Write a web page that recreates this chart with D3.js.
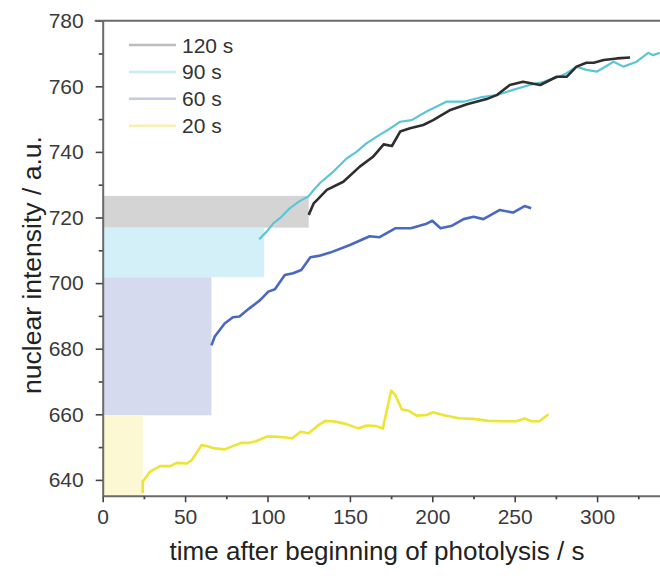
<!DOCTYPE html>
<html>
<head>
<meta charset="utf-8">
<script src="https://cdn.jsdelivr.net/npm/d3@7/dist/d3.min.js"></script>
<style>
  html, body { margin: 0; padding: 0; background: #fff; }
  svg { display: block; }
  text { font-family: "Liberation Sans", Arial, sans-serif; }
</style>
</head>
<body>
<svg id="chart" width="660" height="578"></svg>
<script>
// ---------- data ----------
const seriesNames = ["120 s", "90 s", "60 s", "20 s"];

// photolysis boxes: [end time, lower value, upper value]
const box120 = [125, 716.9, 726.6];
const box90  = [98, 701.8, 716.9];
const box60  = [66, 659.7, 701.8];
const box20  = [24.3, 635, 659.7];

const t120 = [125,128,130,136,146,156,164,170.5,175.5,180.5,186.5,194.5,200.5,211,221,233,239,247,255,265.5,275.5,281.5,287.5,293.5,298,304,312,320];
const v120 = [720.8,724.3,725.3,728.4,730.9,735.5,738.5,742.3,741.8,746.2,747.2,748.2,749.7,752.8,754.5,756.1,757.3,760.4,761.4,760.4,762.9,762.9,766,767.2,767.2,768,768.5,768.8];

const t90 = [95,99.5,103.5,108.5,113.5,119.5,125,128,132,140,148,154,160,168,174,180.5,187.5,196.5,208.5,219,229,239,249,259,267.5,277.5,281.5,287.5,293.5,300,310,316,324,331,334,338];
const v90 = [713.4,715.7,718.2,720.2,722.8,725,726.5,728.4,730.6,734,738,740,742.6,745.2,747,749.2,749.7,752.3,755.3,755.3,756.6,757.3,758.9,760.4,761.4,763.1,764,766,765,764.5,767.5,766,767.5,770.2,769.5,770.2];

const t60 = [66,68,74,79,83,89,95.5,100.5,104.5,110.5,115.5,120.5,126,131,138,150,162,168,177.5,187,196,200,205,212,219,225,231,241,249,256,260];
const v60 = [681,683.7,687.7,689.6,689.8,692.3,694.8,697.4,698.1,702.5,703,704,707.9,708.3,709.3,711.6,714.3,714,716.7,716.7,718,719,716.7,717.5,719.5,720.2,719.5,722.3,721.5,723.5,722.8];

const t20 = [24.3,24.3,28.7,34.8,40.9,44.9,51,54,60,63,68,74,79,84,89,93,99.5,104.5,110,115,120,125,131,135,140,148,155,160,166,170,175,177.5,181.5,185.5,190.5,196.5,200.5,206.5,216,225,234,243,251,256,260,265,270.5];
const v20 = [636,639.5,642.5,644.2,644.2,645.2,645,646,650.6,650.3,649.6,649.3,650.3,651.3,651.3,651.8,653.2,653.2,653,652.7,654.7,654.2,656.7,658,657.9,657,655.7,656.6,656.4,655.7,667.2,665.9,661.5,661.1,659.6,659.8,660.6,659.8,658.8,658.6,658,657.9,657.9,658.7,657.9,657.9,660];

const xMajorTicks = [0, 50, 100, 150, 200, 250, 300];
const xMinorTicks = [25, 75, 125, 175, 225, 275, 325];
const yMajorTicks = [640, 660, 680, 700, 720, 740, 760, 780];
const yMinorTicks = [650, 670, 690, 710, 730, 750, 770];

const xTitle = "time after beginning of photolysis / s";
const yTitle = "nuclear intensity / a.u.";

// ---------- styles ----------
const boxColors  = ["#d4d4d4", "#d3f0f9", "#d6daee", "#fcf8d3"];
const lineColors = ["#2e2e2e", "#5cc6d6", "#4a68bf", "#ede534"];
const legendColors = ["#bdbdbd", "#c8ecf6", "#c5cbe6", "#f7f0b0"];

// ---------- layout ----------
const svg = d3.select("#chart");
const mLeft = 102.7, mTop = 20.7, mBottom = 496.3;
const x = d3.scaleLinear().domain([0, 340]).range([mLeft, mLeft + 340 * 1.648]);
const y = d3.scaleLinear().domain([635, 780]).range([mBottom, mTop]);

svg.append("defs").append("clipPath").attr("id", "plotclip")
  .append("rect").attr("x", mLeft).attr("y", mTop).attr("width", 660 - mLeft).attr("height", mBottom - mTop);

const plot = svg.append("g").attr("clip-path", "url(#plotclip)");

// boxes
const boxes = [box120, box90, box60, box20];
plot.selectAll("rect.box").data(boxes).join("rect")
  .attr("class", "box")
  .attr("x", x(0))
  .attr("y", d => y(d[2]))
  .attr("width", d => x(d[0]) - x(0))
  .attr("height", d => y(d[1]) - y(d[2]))
  .attr("fill", (d, i) => boxColors[i]);

// lines
const series = [[t120, v120], [t90, v90], [t60, v60], [t20, v20]];
const line = d3.line().x(d => x(d[0])).y(d => y(d[1]));
const drawOrder = [3, 2, 1, 0];
drawOrder.forEach(i => {
  const pts = series[i][0].map((t, k) => [t, series[i][1][k]]);
  plot.append("path")
    .datum(pts)
    .attr("d", line)
    .attr("fill", "none")
    .attr("stroke", lineColors[i])
    .attr("stroke-width", i === 1 ? 2.2 : 2.6)
    .attr("stroke-linejoin", "round");
});

// axes
const axisColor = "#6a6a6a";
const labelColor = "#3a3a3a";

function styleAxis(g) {
  g.select(".domain").attr("stroke", axisColor).attr("stroke-width", 2);
  g.selectAll(".tick line").attr("stroke", "#444").attr("stroke-width", 1.6);
  g.selectAll(".tick text").attr("fill", labelColor)
    .style("font-size", "21px").style("font-family", '"Liberation Sans", Arial, sans-serif');
}

const xAxisG = svg.append("g").attr("transform", `translate(0,${mBottom})`)
  .call(d3.axisBottom(x).tickValues(xMajorTicks).tickSize(6).tickPadding(7).tickSizeOuter(0));
styleAxis(xAxisG);
xAxisG.select(".domain").attr("d", `M${mLeft},0H660`);

const xMinorG = svg.append("g").attr("transform", `translate(0,${mBottom})`)
  .call(d3.axisBottom(x).tickValues(xMinorTicks).tickSize(3).tickFormat(""));
xMinorG.select(".domain").remove();
xMinorG.selectAll(".tick line").attr("stroke", "#444").attr("stroke-width", 1.8);

const yAxisG = svg.append("g").attr("transform", `translate(${mLeft},0)`)
  .call(d3.axisLeft(y).tickValues(yMajorTicks).tickSize(7).tickPadding(12).tickSizeOuter(0));
styleAxis(yAxisG);

const yMinorG = svg.append("g").attr("transform", `translate(${mLeft},0)`)
  .call(d3.axisLeft(y).tickValues(yMinorTicks).tickSize(4).tickFormat(""));
yMinorG.select(".domain").remove();
yMinorG.selectAll(".tick line").attr("stroke", "#444").attr("stroke-width", 1.6);

// top frame line
svg.append("line")
  .attr("x1", mLeft - 8).attr("x2", 660)
  .attr("y1", mTop).attr("y2", mTop)
  .attr("stroke", axisColor).attr("stroke-width", 2);

// legend
const legend = svg.append("g");
seriesNames.forEach((name, i) => {
  const ly = 45 + i * 26.9;
  legend.append("line")
    .attr("x1", 129).attr("x2", 176).attr("y1", ly).attr("y2", ly)
    .attr("stroke", legendColors[i]).attr("stroke-width", 2.5);
  legend.append("text")
    .attr("x", 182).attr("y", ly).attr("dy", "0.36em")
    .attr("fill", "#333").style("font-size", "21px")
    .text(name);
});

// titles
svg.append("text")
  .attr("x", 377).attr("y", 560)
  .attr("text-anchor", "middle").attr("fill", "#222")
  .style("font-size", "26px").text(xTitle);

svg.append("text")
  .attr("transform", `translate(41,${265}) rotate(-90)`)
  .attr("text-anchor", "middle").attr("fill", "#222")
  .style("font-size", "26.5px").text(yTitle);
</script>
</body>
</html>
